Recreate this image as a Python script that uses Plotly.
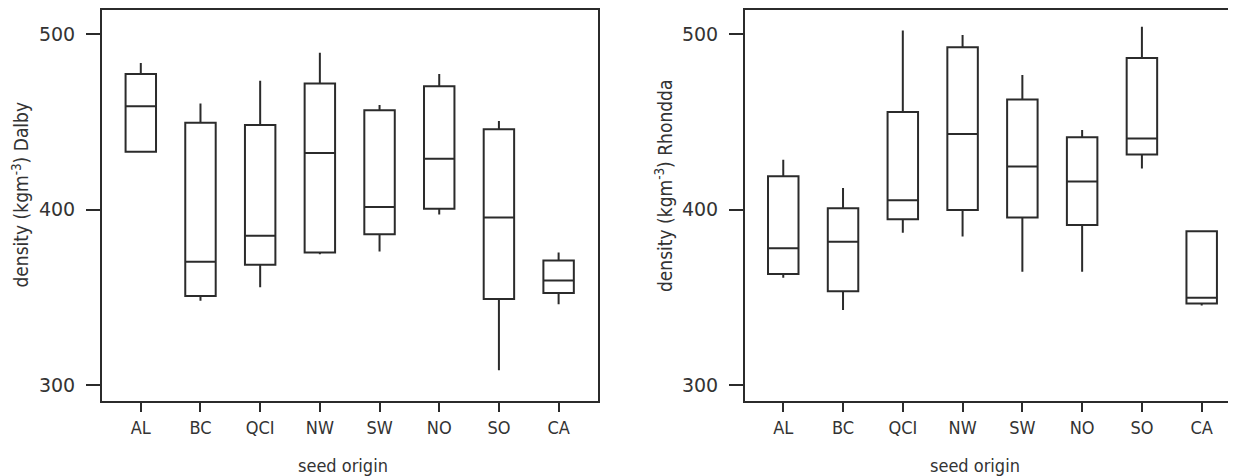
import plotly.graph_objects as go
from plotly.subplots import make_subplots

categories = ["AL", "BC", "QCI", "NW", "SW", "NO", "SO", "CA"]

# Dalby site
dalby_upper = [483.5, 460.4, 473.4, 489.3, 459.5, 477.3, 450.5, 375.5]
dalby_q3 = [477.3, 449.5, 448.2, 471.8, 456.6, 470.2, 445.7, 370.9]
dalby_median = [458.8, 370.2, 385.1, 432.2, 401.4, 429.0, 395.5, 359.6]
dalby_q1 = [432.9, 350.8, 368.6, 375.5, 385.9, 400.5, 349.0, 352.5]
dalby_lower = [432.9, 348.0, 355.7, 374.5, 376.1, 397.2, 308.4, 346.1]

# Rhondda site
rhondda_upper = [428.4, 412.3, 502.0, 499.5, 476.6, 445.3, 504.1, 387.6]
rhondda_q3 = [419.0, 400.7, 455.6, 492.5, 462.7, 441.2, 486.3, 387.6]
rhondda_median = [378.0, 381.6, 405.3, 443.0, 424.5, 416.0, 440.5, 349.8]
rhondda_q1 = [363.3, 353.5, 394.5, 399.8, 395.5, 391.2, 431.3, 346.5]
rhondda_lower = [361.2, 342.7, 386.8, 384.7, 364.5, 364.5, 423.4, 345.3]

y_ticks = [300, 400, 500]
x_title = "seed origin"
y_titles = ["density (kgm<sup>-3</sup>) Dalby", "density (kgm<sup>-3</sup>) Rhondda"]

LINE = "#2b2b2b"
TEXT = "#333333"
# the page body adds an 8px margin, so the figure is drawn 8px smaller
OFF = 8
W, H = 1236 - OFF, 476 - OFF
M_T, M_B = 10 - OFF, 75

fig = make_subplots(rows=1, cols=2)

for col, (lo, q1, med, q3, hi) in enumerate([
    (dalby_lower, dalby_q1, dalby_median, dalby_q3, dalby_upper),
    (rhondda_lower, rhondda_q1, rhondda_median, rhondda_q3, rhondda_upper),
], start=1):
    fig.add_trace(go.Box(
        x=categories, q1=q1, median=med, q3=q3,
        lowerfence=lo, upperfence=hi,
        boxpoints=False, whiskerwidth=0, width=0.51,
        line=dict(color=LINE, width=2),
        fillcolor="rgba(255,255,255,0)",
        showlegend=False, hoverinfo="skip",
    ), row=1, col=col)

xdomains = [[(102 - OFF) / W, (598 - OFF) / W], [(745 - OFF) / W, 1.0]]
xranges = [[-0.65, 7.66], [-0.64, 7.574]]
yrange = [290.9, 513.7]

for i in range(2):
    xa = "xaxis" if i == 0 else "xaxis2"
    ya = "yaxis" if i == 0 else "yaxis2"
    fig.layout[xa].update(
        domain=xdomains[i], range=xranges[i], type="category",
        showline=True, linecolor=LINE, linewidth=2, mirror=True,
        ticks="outside", ticklen=9, tickwidth=2, tickcolor=LINE,
        showgrid=False, zeroline=False,
        tickfont=dict(family="DejaVu Sans Condensed, DejaVu Sans", size=18, color=TEXT),
    )
    fig.layout[ya].update(
        domain=[0, 1], range=yrange,
        tickvals=y_ticks, ticktext=[str(v) for v in y_ticks],
        showline=True, linecolor=LINE, linewidth=2, mirror=(i == 0),
        ticks="outside", ticklen=14, tickwidth=2, tickcolor=LINE,
        ticklabelstandoff=7,
        showgrid=False, zeroline=False,
        tickfont=dict(family="DejaVu Sans", size=19, color=TEXT),
    )

ph = H - M_T - M_B
ann_font = dict(family="DejaVu Sans Condensed, DejaVu Sans", size=18, color=TEXT)
title_font = dict(family="DejaVu Sans Condensed, DejaVu Sans", size=19, color=TEXT)
for xc in [343, 975]:
    fig.add_annotation(text=x_title, xref="paper", yref="paper",
                       x=(xc - OFF) / W, y=(H - M_B - (465 - OFF)) / ph,
                       xanchor="center", yanchor="middle",
                       showarrow=False, font=ann_font)
for xc, yc, t in zip([21, 664], [194.5, 186], y_titles):
    fig.add_annotation(text=t, xref="paper", yref="paper",
                       x=(xc - OFF) / W, y=(H - M_B - (yc - OFF)) / ph,
                       xanchor="center", yanchor="middle",
                       textangle=-90, showarrow=False, font=title_font)

fig.update_layout(
    width=W, height=H,
    margin=dict(l=0, r=0, t=M_T, b=M_B),
    paper_bgcolor="white", plot_bgcolor="white",
)

fig.write_html("out.html")
